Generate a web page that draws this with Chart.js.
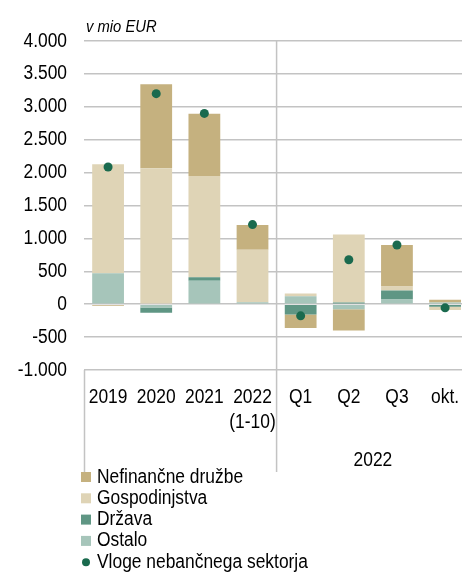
<!DOCTYPE html>
<html>
<head>
<meta charset="utf-8">
<script src="https://cdn.jsdelivr.net/npm/chart.js@4/dist/chart.umd.min.js"></script>
<style>
  html, body { margin: 0; padding: 0; background: #fff; }
  #wrap { width: 462px; height: 574px; overflow: hidden; position: relative; }
  canvas { display: block; }
</style>
</head>
<body>
<div id="wrap"><canvas id="c" width="476" height="574" style="width:476px;height:574px"></canvas></div>
<script>
// data (v mio EUR)
const categories = ['2019', '2020', '2021', ['2022', '(1-10)'], 'Q1', 'Q2', 'Q3', 'okt.'];
const nefinancne = [-25, 1279, 949, 376, -202, -325, 629, 42];
const gospodinjstva = [1654, 2065, 1537, 796, 40, 1036, 61, -50];
const drzava = [0, -80, 55, 0, -158, 25, 137, -40];
const ostalo = [472, -50, 355, 30, 122, -76, 71, 25];
const vloge = [2085, 3200, 2900, 1210, -177, 675, 900, -55];
const groupLabel = '2022';
const unitLabel = 'v mio EUR';

const FONT = "'Liberation Sans', Arial, sans-serif";
const SQUEEZE = 0.87; // text in the original is a bit narrow

var canvas = document.getElementById('c');
var ctx = canvas.getContext('2d');
var origFill = ctx.fillText;
ctx.fillText = function (t, x, y, mw) {
  this.save();
  this.translate(x, y);
  this.scale(SQUEEZE, 1);
  if (mw === undefined) origFill.call(this, t, 0, 0);
  else origFill.call(this, t, 0, 0, mw / SQUEEZE);
  this.restore();
};

function fmt(v) {
  var s = Math.abs(v).toString().replace(/\B(?=(\d{3})+(?!\d))/g, '.');
  return (v < 0 ? '-' : '') + s;
}

// separators, group label, unit label and legend
var extras = {
  id: 'extras',
  afterDraw: function (chart) {
    var c = chart.ctx, x = chart.scales.x, a = chart.chartArea;
    var lineBottom = 472;
    var sep = (x.getPixelForValue(3) + x.getPixelForValue(4)) / 2;
    c.save();
    c.strokeStyle = '#c3c3c3';
    c.lineWidth = 1.5;
    c.beginPath();
    c.moveTo(sep, a.top); c.lineTo(sep, lineBottom);
    c.moveTo(a.left + 0.5, a.bottom); c.lineTo(a.left + 0.5, lineBottom);
    c.moveTo(a.right - 0.5, a.bottom); c.lineTo(a.right - 0.5, lineBottom);
    c.stroke();

    c.fillStyle = '#000';
    c.font = '20px ' + FONT;
    c.textAlign = 'center';
    c.textBaseline = 'middle';
    c.fillText(groupLabel, (x.getPixelForValue(4) + x.getPixelForValue(7)) / 2, 460);

    c.font = 'italic 17px ' + FONT;
    c.textAlign = 'left';
    c.textBaseline = 'alphabetic';
    c.fillText(unitLabel, 86, 32);

    // legend, one item per line
    var order = [3, 2, 1, 0, 4];
    c.font = '20px ' + FONT;
    c.textBaseline = 'middle';
    order.forEach(function (di, i) {
      var ds = chart.data.datasets[di];
      var cy = 477 + i * 21.3;
      if (ds.type === 'line') {
        c.fillStyle = ds.pointBackgroundColor;
        c.beginPath();
        c.arc(86, cy, 4, 0, Math.PI * 2);
        c.fill();
      } else {
        c.fillStyle = ds.backgroundColor;
        c.fillRect(81, cy - 5, 10, 10);
      }
      c.fillStyle = '#000';
      c.fillText(ds.label, 97, cy);
    });
    c.restore();
  }
};

var chart = new Chart(ctx, {
  type: 'bar',
  data: {
    labels: categories,
    datasets: [
      { label: 'Ostalo', data: ostalo, backgroundColor: '#a6c5ba', order: 1 },
      { label: 'Država', data: drzava, backgroundColor: '#5f9684', order: 2 },
      { label: 'Gospodinjstva', data: gospodinjstva, backgroundColor: '#dfd4b6', order: 3 },
      { label: 'Nefinančne družbe', data: nefinancne, backgroundColor: '#c5b17f', order: 4 },
      {
        label: 'Vloge nebančnega sektorja', type: 'line', data: vloge, stack: 'dots',
        showLine: false, pointRadius: 4.5, pointBorderWidth: 0,
        pointBackgroundColor: '#1a6a4e', borderColor: '#1a6a4e', order: 0
      }
    ]
  },
  options: {
    responsive: false,
    animation: false,
    barPercentage: 0.66,
    categoryPercentage: 1,
    layout: { padding: { left: 0, top: 41, right: 4, bottom: 0 } },
    plugins: { legend: { display: false }, tooltip: { enabled: false } },
    scales: {
      x: {
        stacked: true,
        grid: { display: false, drawTicks: false },
        border: { display: false },
        ticks: {
          color: '#000', padding: 14.5, maxRotation: 0, autoSkip: false,
          font: { family: FONT, size: 20, lineHeight: 1.25 }
        },
        afterFit: function (s) { s.height = 204; }
      },
      y: {
        stacked: true,
        min: -1000, max: 4000,
        grid: { color: '#c3c3c3', lineWidth: 1.5, drawTicks: false },
        border: { display: false },
        ticks: {
          stepSize: 500, color: '#000', padding: 17,
          font: { family: FONT, size: 20 },
          callback: function (v) { return fmt(v); }
        },
        afterFit: function (s) { s.width = 84; }
      }
    }
  },
  plugins: [extras]
});
</script>
</body>
</html>
